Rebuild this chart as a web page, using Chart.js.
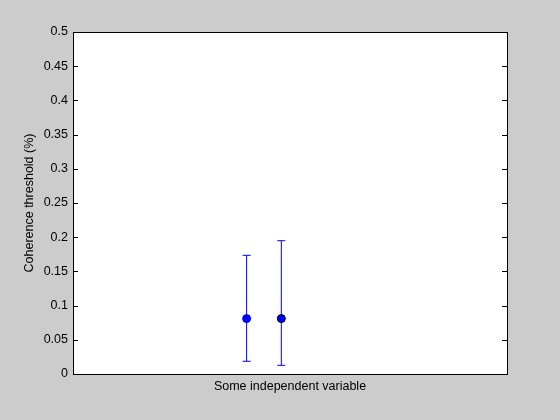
<!DOCTYPE html>
<html>
<head>
<meta charset="utf-8">
<script src="https://cdn.jsdelivr.net/npm/chart.js@4.4.0/dist/chart.umd.min.js"></script>
<style>
  html, body { margin: 0; padding: 0; background: #cccccc; }
  #wrap { width: 560px; height: 420px; }
</style>
</head>
<body>
<div id="wrap"><canvas id="chart" width="560" height="420"></canvas></div>
<script>
// data
var xPos = [0.4, 0.48];             // horizontal spots of the two conditions
var means = [0.081, 0.081];         // coherence threshold
var lows = [0.0186, 0.0127];        // lower end of error bar
var highs = [0.1735, 0.1949];       // upper end of error bar
var markerEdge = ['#0000ff', '#000000'];

var yTickStep = 0.05;
var yMin = 0, yMax = 0.5;

var FONT = { family: 'Liberation Sans, Arial, sans-serif', size: 12.5 };

//background: gray figure, white axes
var bgPlugin = {
  id: 'bg',
  beforeDraw: function(chart) {
    var c = chart.ctx, a = chart.chartArea;
    c.save();
    c.fillStyle = '#cccccc';
    c.fillRect(0, 0, chart.width, chart.height);
    c.fillStyle = '#ffffff';
    c.fillRect(a.left, a.top, a.right - a.left, a.bottom - a.top);
    c.restore();
  }
};

//box round the axes plus inward tick marks on left and right
var framePlugin = {
  id: 'frame',
  afterDraw: function(chart) {
    var c = chart.ctx, a = chart.chartArea, ys = chart.scales.y;
    c.save();
    c.strokeStyle = '#000';
    c.lineWidth = 1;
    c.beginPath();
    ys.ticks.forEach(function(t) {
      var py = Math.round(ys.getPixelForValue(t.value)) + 0.5;
      c.moveTo(a.left, py); c.lineTo(a.left + 5, py);
      c.moveTo(a.right, py); c.lineTo(a.right - 5, py);
    });
    c.stroke();
    c.strokeRect(Math.round(a.left) + 0.5, Math.round(a.top) + 0.5,
      Math.round(a.right - a.left), Math.round(a.bottom - a.top));
    c.restore();
  }
};

// one little line dataset per error bar; 'line' point style gives the caps
var errSets = xPos.map(function(x, i) {
  return {
    type: 'line',
    data: [{ x: x, y: lows[i] }, { x: x, y: highs[i] }],
    borderColor: '#0000ff',
    borderWidth: 1,
    pointStyle: 'line',
    pointRadius: 4,
    pointBorderColor: '#0000ff',
    pointBorderWidth: 1,
    fill: false,
    order: 1
  };
});

var points = xPos.map(function(x, i) { return { x: x, y: means[i] }; });

var ctx = document.getElementById('chart').getContext('2d');
var myChart = new Chart(ctx, {
  type: 'scatter',
  data: {
    datasets: [{
      data: points,
      pointRadius: 4,
      pointBackgroundColor: '#0000ff',
      pointBorderColor: markerEdge,
      pointBorderWidth: 1,
      showLine: false,
      order: 0
    }].concat(errSets)
  },
  options: {
    responsive: false,
    animation: false,
    layout: { padding: { top: 32, right: 53, bottom: 24, left: 0 } },
    plugins: { legend: { display: false }, tooltip: { enabled: false } },
    scales: {
      x: {
        type: 'linear', min: 0, max: 1,
        grid: { display: false, drawTicks: false }, border: { display: false },
        ticks: { display: false },
        title: { display: true, text: 'Some independent variable', color: '#000',
                 font: FONT, padding: { top: 0, bottom: 2 } },
        afterFit: function(s) { s.height = 22; }
      },
      y: {
        min: yMin, max: yMax,
        grid: { display: false, drawTicks: false }, border: { display: false },
        ticks: {
          stepSize: yTickStep, color: '#000', font: FONT, padding: 5,
          callback: function(v) { return String(Number(v.toFixed(2))); }
        },
        title: { display: true, text: 'Coherence threshold (%)', color: '#000',
                 font: FONT, padding: { top: 22, bottom: 0 } },
        afterFit: function(s) { s.width = 73; }
      }
    }
  },
  plugins: [bgPlugin, framePlugin]
});
</script>
</body>
</html>
